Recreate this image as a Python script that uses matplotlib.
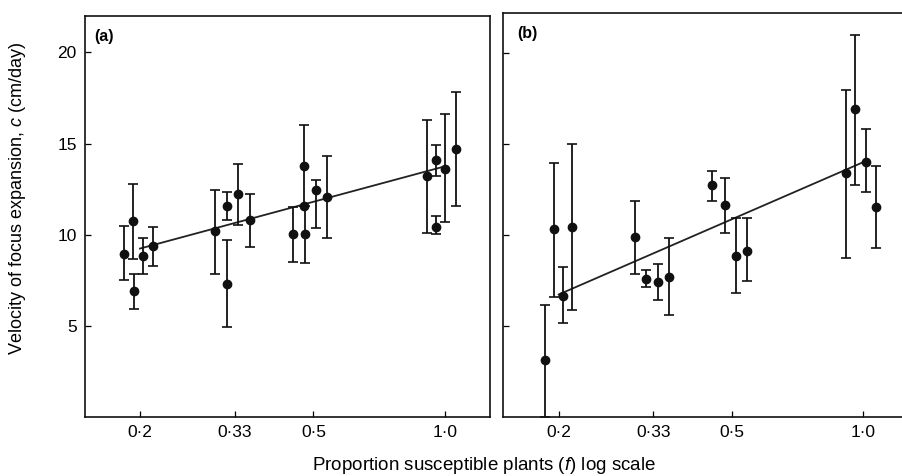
import numpy as np
import matplotlib
matplotlib.use("Agg")
import matplotlib.pyplot as plt
from matplotlib.ticker import FixedLocator, FixedFormatter, NullLocator

plt.rcParams['font.family'] = ['Liberation Sans', 'DejaVu Sans']
plt.rcParams['mathtext.fontset'] = 'custom'
plt.rcParams['mathtext.it'] = 'Liberation Sans:italic'
plt.rcParams['mathtext.rm'] = 'Liberation Sans'

# ---- Panel (a): velocity c (cm/day) vs proportion susceptible f ----
a_f = [0.184, 0.193, 0.194, 0.2035, 0.214, 0.297, 0.316, 0.317, 0.335, 0.357,
       0.448, 0.475, 0.476, 0.478, 0.507, 0.536, 0.909, 0.955, 0.956, 1.003, 1.06]
a_c = [8.96, 10.73, 6.89, 8.85, 9.40, 10.18, 11.56, 7.29, 12.23, 10.79,
       10.05, 13.75, 11.55, 10.05, 12.47, 12.07, 13.20, 14.12, 10.42, 13.60, 14.71]
a_lo = [7.53, 8.66, 5.92, 7.86, 8.26, 7.86, 10.79, 4.96, 10.55, 9.32,
        8.48, 11.55, 11.55, 8.46, 10.37, 9.80, 10.09, 13.20, 10.05, 10.68, 11.56]
a_hi = [10.46, 12.80, 7.86, 9.82, 10.42, 12.47, 12.32, 9.69, 13.90, 12.25,
        11.52, 16.00, 11.55, 11.55, 12.98, 14.30, 16.32, 14.95, 11.04, 16.60, 17.82]
a_fit = (13.75, 6.45)   # c = intercept + slope * log10(f)

# ---- Panel (b) ----
b_f = [0.186, 0.195, 0.205, 0.215, 0.299, 0.318, 0.338, 0.3585,
       0.451, 0.482, 0.512, 0.540, 0.914, 0.958, 1.014, 1.071]
b_c = [3.13, 10.31, 6.67, 10.46, 9.91, 7.58, 7.44, 7.71,
       12.75, 11.65, 8.85, 9.14, 13.39, 16.90, 14.03, 11.56]
b_lo = [0.0, 6.61, 5.15, 5.88, 7.86, 7.13, 6.43, 5.60,
        11.88, 10.13, 6.83, 7.49, 8.72, 12.75, 12.38, 9.27]
b_hi = [6.15, 13.97, 8.26, 15.00, 11.88, 8.08, 8.41, 9.82,
        13.53, 13.11, 10.92, 10.92, 17.97, 20.99, 15.81, 13.79]
b_fit = (14.0, 10.4)

fit_range = [0.2, 1.0]
x_ticks = [0.2, 0.33, 0.5, 1.0]
x_ticklabels = ['0·2', '0·33', '0·5', '1·0']
y_ticks = [5, 10, 15, 20]
y_ticklabels = ['5', '10', '15', '20']

W, H = 903, 476
fig = plt.figure(figsize=(W / 100, H / 100), dpi=100)

ax1 = fig.add_axes([85 / W, 1 - 417 / H, (490 - 85) / W, (417 - 16) / H])
ax2 = fig.add_axes([503 / W, 1 - 417 / H, (903 - 503) / W, (417 - 13) / H])

FS = 12.5


def draw_panel(ax, f, c, lo, hi, fit, xlim, ylim):
    f = np.asarray(f); c = np.asarray(c)
    lo = np.asarray(lo); hi = np.asarray(hi)
    ax.set_xscale('log')
    ax.errorbar(f, c, yerr=[c - lo, hi - c], fmt='o', color='#111111',
                ms=6, capsize=3.5, elinewidth=1.3, capthick=1.2, zorder=3)
    ff = np.geomspace(fit_range[0], fit_range[1], 50)
    ax.plot(ff, fit[0] + fit[1] * np.log10(ff), color='#222222', lw=1.3, zorder=2)
    ax.set_xlim(*xlim)
    ax.set_ylim(*ylim)
    ax.xaxis.set_major_locator(FixedLocator(x_ticks))
    ax.xaxis.set_major_formatter(FixedFormatter(x_ticklabels))
    ax.xaxis.set_minor_locator(NullLocator())
    ax.yaxis.set_major_locator(FixedLocator(y_ticks))
    ax.yaxis.set_major_formatter(FixedFormatter(y_ticklabels))
    ax.tick_params(direction='in', length=4, width=0.9, labelsize=FS, pad=6)
    for s in ax.spines.values():
        s.set_linewidth(1.2)
        s.set_color('#111111')


draw_panel(ax1, a_f, a_c, a_lo, a_hi, a_fit, (0.1496, 1.27), (0, 22.0))
draw_panel(ax2, b_f, b_c, b_lo, b_hi, b_fit, (0.149, 1.235), (0, 22.2))
ax2.tick_params(labelleft=False)
ax2.spines['right'].set_visible(False)

ax1.text(0.022, 0.968, '(a)', transform=ax1.transAxes, fontsize=11.5,
         fontweight='bold', va='top', ha='left')
ax2.text(0.035, 0.968, '(b)', transform=ax2.transAxes, fontsize=11.5,
         fontweight='bold', va='top', ha='left')

fig.text(18 / W, 1 - 198 / H, 'Velocity of focus expansion, $c$ (cm/day)',
         rotation=90, ha='center', va='center', fontsize=13)
fig.text(484 / W, 1 - 465 / H, 'Proportion susceptible plants ($f$) log scale',
         ha='center', va='center', fontsize=13.5)

fig.savefig('out.png', dpi=100)
